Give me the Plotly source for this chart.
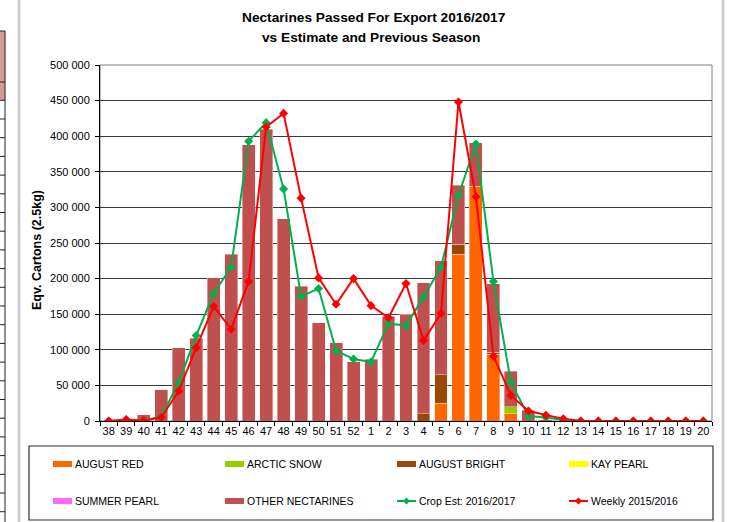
import plotly.graph_objects as go

# ---------------- data ----------------
weeks = ["38", "39", "40", "41", "42", "43", "44", "45", "46", "47", "48", "49", "50", "51", "52",
         "1", "2", "3", "4", "5", "6", "7", "8", "9", "10", "11", "12", "13", "14", "15", "16",
         "17", "18", "19", "20"]

august_red = [0, 0, 0, 0, 0, 0, 0, 0, 0, 0, 0, 0, 0, 0, 0,
              0, 0, 0, 0, 25000, 234000, 330000, 94000, 10000, 0, 0, 0, 0, 0, 0, 0, 0, 0, 0, 0]
arctic_snow = [0, 0, 0, 0, 0, 0, 0, 0, 0, 0, 0, 0, 0, 0, 0,
               0, 0, 0, 0, 0, 0, 0, 0, 10000, 0, 0, 0, 0, 0, 0, 0, 0, 0, 0, 0]
august_bright = [0, 0, 0, 0, 0, 0, 0, 0, 0, 0, 0, 0, 0, 0, 0,
                 0, 0, 0, 10000, 40000, 14000, 0, 2500, 0, 0, 0, 0, 0, 0, 0, 0, 0, 0, 0, 0]
kay_pearl = [0] * 35
summer_pearl = [0] * 35
other_nectarines = [0, 0, 9000, 44000, 103000, 116000, 201000, 234000, 388000, 410000, 284000, 189000,
                    138000, 110000, 83000,
                    87000, 147000, 150000, 184000, 160000, 83000, 61000, 96000, 50000, 15000, 1500,
                    0, 0, 0, 0, 0, 0, 0, 0, 0]

crop_est = [0, 0, 1000, 6000, 54000, 120000, 179000, 216000, 393000, 419000, 326000, 175000,
            186000, 99000, 87000,
            83000, 137000, 134000, 174000, 216000, 317000, 389000, 196000, 54000, 7000, 5000,
            1500, 0, 0, 0, 0, 0, 0, 0, 0]
weekly_prev = [0, 2000, 500, 5000, 42000, 103000, 161000, 129000, 196000, 413000, 432000, 313000,
               201000, 164000, 200000,
               162000, 145000, 193000, 113000, 151000, 448000, 315000, 91000, 36000, 14000, 8000,
               3000, 0, 0, 0, 0, 0, 0, 0, 0]

y_ticks = [0, 50000, 100000, 150000, 200000, 250000, 300000, 350000, 400000, 450000, 500000]

bar_series = [
    ("AUGUST RED", august_red, "#FF6600"),
    ("ARCTIC SNOW", arctic_snow, "#99CC00"),
    ("AUGUST BRIGHT", august_bright, "#994806"),
    ("KAY PEARL", kay_pearl, "#FFFF00"),
    ("SUMMER PEARL", summer_pearl, "#FF66FF"),
    ("OTHER NECTARINES", other_nectarines, "#C0504D"),
]
line_series = [
    ("Crop Est: 2016/2017", crop_est, "#00B050"),
    ("Weekly 2015/2016", weekly_prev, "#FF0000"),
]

# ---------------- geometry ----------------
W, H = 731, 522
L, R, T, B = 100, 19, 65, 101
PW, PH = W - L - R, H - T - B
FONT = "Liberation Sans, Arial, sans-serif"


def px(x):
    return (x - L) / PW


def py(y):
    return (H - B - y) / PH


fig = go.Figure()

for name, vals, col in bar_series:
    fig.add_trace(go.Bar(
        x=weeks, y=[v if v else None for v in vals], name=name,
        marker=dict(color=col, line=dict(color="rgba(255,235,235,0.7)", width=0.6)),
        showlegend=False))

for name, vals, col in line_series:
    fig.add_trace(go.Scatter(
        x=weeks, y=vals, name=name, mode="lines+markers",
        line=dict(color=col, width=2),
        marker=dict(symbol="diamond", size=7, color=col),
        showlegend=False))

shapes = []
ann = []

# plot-area border
shapes.append(dict(type="rect", xref="paper", yref="paper", x0=0, x1=1, y0=0, y1=1,
                   line=dict(color="#7f7f7f", width=1), layer="below"))

# ---------- manual legend ----------
shapes.append(dict(type="rect", xref="paper", yref="paper",
                   x0=px(29), x1=px(713), y0=py(446), y1=py(520),
                   line=dict(color="#303030", width=1.2)))
legend_items = [(n, c, "bar") for n, v, c in bar_series] + [(n, c, "line") for n, v, c in line_series]
col_x = [53, 225, 397, 569]
row_y = [464, 501]
for i, (name, col, kind) in enumerate(legend_items):
    cx = col_x[i % 4]
    cy = row_y[i // 4]
    if kind == "bar":
        shapes.append(dict(type="rect", xref="paper", yref="paper",
                           x0=px(cx), x1=px(cx + 19), y0=py(cy - 3), y1=py(cy + 3),
                           fillcolor=col, line=dict(width=0)))
    else:
        shapes.append(dict(type="line", xref="paper", yref="paper",
                           x0=px(cx), x1=px(cx + 19), y0=py(cy), y1=py(cy),
                           line=dict(color=col, width=2)))
        mx, d = cx + 9.5, 3.5
        path = "M {} {} L {} {} L {} {} L {} {} Z".format(
            px(mx), py(cy - d), px(mx + d), py(cy), px(mx), py(cy + d), px(mx - d), py(cy))
        shapes.append(dict(type="path", xref="paper", yref="paper", path=path,
                           fillcolor=col, line=dict(color=col, width=0)))
    ann.append(dict(text=name, xref="paper", yref="paper", x=px(cx + 20), y=py(cy),
                    xanchor="left", yanchor="middle", showarrow=False,
                    font=dict(family=FONT, size=10.5, color="black")))

# ---------- title and axis title ----------
ann.append(dict(text="<b>Nectarines Passed For Export 2016/2017</b>", xref="paper", yref="paper",
                x=px(374), y=py(18), xanchor="center", yanchor="middle", showarrow=False,
                font=dict(family=FONT, size=13.7, color="black")))
ann.append(dict(text="<b>vs Estimate and Previous Season</b>", xref="paper", yref="paper",
                x=px(371), y=py(37), xanchor="center", yanchor="middle", showarrow=False,
                font=dict(family=FONT, size=13.7, color="black")))
ann.append(dict(text="<b>Eqv. Cartons (2.5kg)</b>", xref="paper", yref="paper",
                x=px(37), y=py(250), xanchor="center", yanchor="middle", showarrow=False,
                textangle=-90, font=dict(family=FONT, size=12.5, color="black")))

# ---------- surrounding screenshot artefacts ----------
shapes.append(dict(type="rect", xref="paper", yref="paper", x0=px(-2), x1=px(5), y0=py(31), y1=py(100),
                   fillcolor="#D9999A", line=dict(width=0)))
shapes.append(dict(type="line", xref="paper", yref="paper", x0=px(5), x1=px(5), y0=py(31), y1=py(H + 2),
                   line=dict(color="#222222", width=1)))
hy = [31, 82, 100.3]
y = 119.0
while y < H:
    hy.append(y)
    y += 18.7
for yy in hy:
    shapes.append(dict(type="line", xref="paper", yref="paper", x0=px(-2), x1=px(5), y0=py(yy), y1=py(yy),
                       line=dict(color="#222222", width=1)))
for gx in (19, 723):
    shapes.append(dict(type="line", xref="paper", yref="paper", x0=px(gx), x1=px(gx), y0=py(-2), y1=py(H + 2),
                       line=dict(color="#C8C8C8", width=2.5)))

fig.update_layout(
    width=W, height=H,
    margin=dict(l=L, r=R, t=T, b=B, pad=0),
    paper_bgcolor="white", plot_bgcolor="white",
    barmode="stack", bargap=0.26,
    separators=". ",
    showlegend=False,
    font=dict(family=FONT, size=11, color="black"),
    shapes=shapes, annotations=ann,
)
fig.update_xaxes(type="category", categoryorder="array", categoryarray=weeks,
                 range=[-0.5, len(weeks) - 0.5],
                 showline=True, linecolor="black", linewidth=1,
                 ticks="outside", tickson="boundaries", ticklen=4, tickcolor="black",
                 tickangle=0, automargin=False,
                 showgrid=False, tickfont=dict(family=FONT, size=11, color="black"))
fig.update_yaxes(range=[0, 500000], tickvals=y_ticks, tickformat=",d",
                 showline=True, linecolor="black", linewidth=1,
                 ticks="outside", ticklen=4, tickcolor="black", automargin=False,
                 showgrid=True, gridcolor="#3a3a3a", gridwidth=1, zeroline=False,
                 ticklabelstandoff=3,
                 tickfont=dict(family=FONT, size=11, color="black"))

fig.write_html("out.html", config={"displayModeBar": False},
               post_script="document.body.style.margin='0px';document.body.style.overflow='hidden';")
